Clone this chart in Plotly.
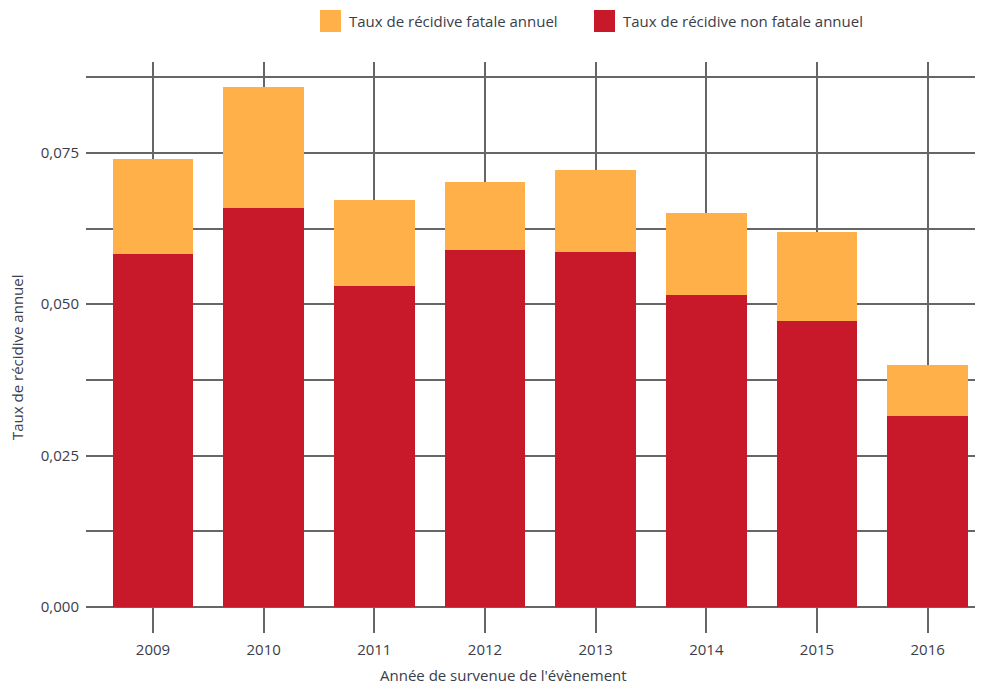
import plotly.graph_objects as go

years = ["2009", "2010", "2011", "2012", "2013", "2014", "2015", "2016"]
non_fatal = [0.0583, 0.0659, 0.0530, 0.0589, 0.0586, 0.0515, 0.0472, 0.0315]
fatal = [0.0157, 0.0200, 0.0142, 0.0113, 0.0136, 0.0136, 0.0147, 0.0084]
y_tickvals = [0.0, 0.025, 0.05, 0.075]
y_ticktext = ["0,000", "0,025", "0,050", "0,075"]
name_fatal = "Taux de récidive fatale annuel"
name_nonfatal = "Taux de récidive non fatale annuel"

RED = "#C8192B"
ORANGE = "#FFB048"
TXT = "#3a3d4a"
GRID = "#666666"
FS = 15

# page has an 8px body margin: the figure is placed at (8, 8)
OFF = 8
W, H = 983 - OFF, 688 - OFF
# plot area in page pixels: x 86..983, y 62..633
L, T = 86 - OFF, 62 - OFF
R = 0
B = 688 - 633
PW, PH = W - L - R, H - T - B


def px(x):
    return (x - OFF - L) / PW


def py(y):
    return (H - B - (y - OFF)) / PH


fig = go.Figure()
fig.add_trace(go.Bar(x=years, y=non_fatal, name=name_nonfatal,
                     marker=dict(color=RED, line=dict(width=0)), showlegend=False))
fig.add_trace(go.Bar(x=years, y=fatal, name=name_fatal,
                     marker=dict(color=ORANGE, line=dict(width=0)), showlegend=False))

fig.update_layout(
    width=W, height=H,
    barmode="stack", bargap=0.27,
    plot_bgcolor="white", paper_bgcolor="white",
    margin=dict(l=L, r=R, t=T, b=B),
    font=dict(family="Open Sans", size=FS, color=TXT),
    showlegend=False,
)

fig.update_xaxes(
    type="category", range=[-0.605, 7.5], automargin=False,
    showgrid=True, gridcolor=GRID, gridwidth=1.5,
    showline=False, ticks="", tickfont=dict(size=FS, color=TXT),
    ticklabelstandoff=6,
    zeroline=False, fixedrange=True,
)
fig.update_yaxes(
    range=[-0.0043, 0.09], automargin=False,
    tickvals=y_tickvals, ticktext=y_ticktext,
    showgrid=True, gridcolor=GRID, gridwidth=1.5,
    minor=dict(dtick=0.0125, tick0=0, showgrid=True, gridcolor=GRID, gridwidth=1.5),
    zeroline=False, showline=False, ticks="",
    tickfont=dict(size=FS, color=TXT), ticklabelstandoff=6,
)

# axis titles
fig.add_annotation(text="Année de survenue de l'évènement", xref="paper", yref="paper",
                   x=px(503), y=py(675), xanchor="center", yanchor="middle",
                   showarrow=False, font=dict(size=FS, color=TXT))
fig.add_annotation(text="Taux de récidive annuel", xref="paper", yref="paper",
                   x=px(17), y=py(358), xanchor="center", yanchor="middle", textangle=-90,
                   showarrow=False, font=dict(size=FS, color=TXT))

# legend
legend_items = [(name_fatal, ORANGE, 320), (name_nonfatal, RED, 594)]
for label, col, x0 in legend_items:
    fig.add_shape(type="rect", xref="paper", yref="paper",
                  x0=px(x0), x1=px(x0 + 21), y0=py(32), y1=py(10),
                  fillcolor=col, line=dict(width=0))
    fig.add_annotation(text=label, xref="paper", yref="paper",
                       x=px(x0 + 27), y=py(21), xanchor="left", yanchor="middle",
                       showarrow=False, font=dict(size=FS, color=TXT))

fig.write_html("out.html")
